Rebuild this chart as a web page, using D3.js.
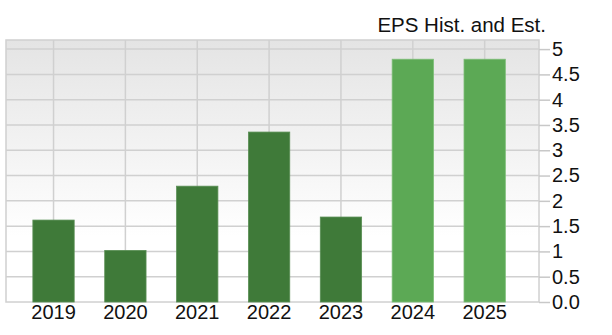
<!DOCTYPE html>
<html>
<head>
    <meta charset="utf-8">
    <script src="https://cdnjs.cloudflare.com/ajax/libs/d3/7.8.5/d3.min.js"></script>
    <style>
        body { margin: 0; background: #fff; }
        svg text { font-family: 'Liberation Sans', Arial, sans-serif; fill: #111; }
    </style>
</head>
<body>
    <svg width="612" height="335"></svg>
    <script>
        // chart data
        var years = ["2019", "2020", "2021", "2022", "2023", "2024", "2025"];
        var eps = [1.62, 1.02, 2.29, 3.36, 1.68, 4.80, 4.80];
        var isEstimate = [false, false, false, false, false, true, true];
        var yTicks = [0, 0.5, 1, 1.5, 2, 2.5, 3, 3.5, 4, 4.5, 5];

        var svg = d3.select("svg"),
            plot = {left: 6, right: 539, top: 40, bottom: 302};

        var x = d3.scaleBand().domain(years).range([17.6, 520.6])
            .paddingInner(0.425).paddingOuter(0.2125);
        var y = d3.scaleLinear().domain([0, 5.18]).range([plot.bottom, plot.top]);

        // background gradient
        var grad = svg.append("defs").append("linearGradient")
            .attr("id", "bg").attr("x1", 0).attr("y1", 0).attr("x2", 0).attr("y2", 1);
        grad.append("stop").attr("offset", "0%").attr("stop-color", "#e4e4e4");
        grad.append("stop").attr("offset", "75%").attr("stop-color", "#ffffff");
        grad.append("stop").attr("offset", "100%").attr("stop-color", "#ffffff");

        svg.append("rect")
            .attr("x", plot.left).attr("y", plot.top)
            .attr("width", plot.right - plot.left).attr("height", plot.bottom - plot.top)
            .attr("fill", "url(#bg)")
            .attr("stroke", "#d0d0d0").attr("stroke-width", 1.5);

        // horizontal grid
        svg.append("g").selectAll("line")
            .data(yTicks.slice(1))
            .enter().append("line")
            .attr("x1", plot.left).attr("x2", plot.right)
            .attr("y1", function(d) { return y(d); })
            .attr("y2", function(d) { return y(d); })
            .attr("stroke", "#d0d0d0").attr("stroke-width", 1.5);

        // vertical grid at category centers
        svg.append("g").selectAll("line")
            .data(years)
            .enter().append("line")
            .attr("x1", function(d) { return x(d) + x.bandwidth() / 2; })
            .attr("x2", function(d) { return x(d) + x.bandwidth() / 2; })
            .attr("y1", plot.top).attr("y2", plot.bottom)
            .attr("stroke", "#d0d0d0").attr("stroke-width", 1.5);

        // bars
        svg.append("g").selectAll("rect")
            .data(years)
            .enter().append("rect")
            .attr("x", function(d) { return x(d); })
            .attr("width", x.bandwidth())
            .attr("y", function(d, i) { return y(eps[i]); })
            .attr("height", function(d, i) { return y(0) - y(eps[i]); })
            .attr("fill", function(d, i) { return isEstimate[i] ? "#5ca955" : "#3f7a39"; })
            .attr("stroke", function(d, i) { return isEstimate[i] ? "#7cbd76" : "#5a8f55"; })
            .attr("stroke-width", 0.8);

        // y axis on the right
        var yAxis = svg.append("g")
            .attr("transform", "translate(" + plot.right + ",0)")
            .call(d3.axisRight(y).tickValues(yTicks).tickSize(11).tickPadding(2)
                .tickFormat(function(d) { return d === 0 ? "0.0" : d3.format("")(d); }));
        yAxis.select(".domain").remove();
        yAxis.selectAll(".tick line").attr("stroke", "#c8c8c8").attr("stroke-width", 1.5);
        yAxis.selectAll(".tick text")
            .style("font-size", "20px")
            .attr("fill", "#111");

        // x axis labels
        var xAxis = svg.append("g")
            .attr("transform", "translate(0," + plot.bottom + ")")
            .call(d3.axisBottom(x).tickSize(0).tickPadding(3));
        xAxis.select(".domain").remove();
        xAxis.selectAll(".tick text")
            .style("font-size", "20px")
            .attr("fill", "#111");

        // title
        svg.append("text")
            .attr("x", 546).attr("y", 32)
            .attr("text-anchor", "end")
            .style("font-size", "20.5px")
            .text("EPS Hist. and Est.");
    </script>
</body>
</html>
